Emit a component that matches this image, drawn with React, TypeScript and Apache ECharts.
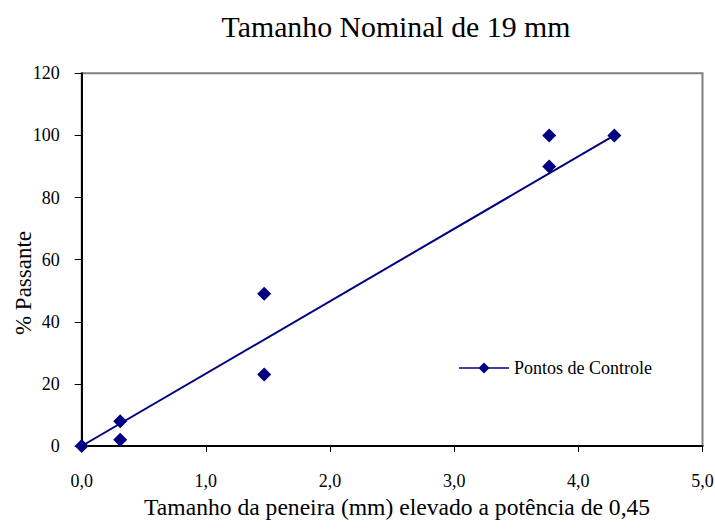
import React, { useEffect, useRef } from "react";
import * as echarts from "echarts";

// Sieve size raised to the 0.45 power, and percent passing at each control point
const controlX = [0, 0.31, 0.31, 1.47, 1.47, 3.765, 3.765, 4.29];
const controlY = [0, 8, 2, 49, 23, 100, 90, 100];

// Maximum density line endpoints
const maxLineX = [0, 4.29];
const maxLineY = [0, 100];

const xTicks = { min: 0, max: 5, interval: 1 };
const yTicks = { min: 0, max: 120, interval: 20 };

const NAVY = "#000080";
const SERIF = "'Liberation Serif', 'DejaVu Serif', serif";

// Legend glyph: a short line with a diamond in the middle
const LEGEND_ICON =
  "path://M0,5.3 L50,5.3 L50,6.7 L0,6.7 Z M25,0.5 L30.5,6 L25,11.5 L19.5,6 Z";

export default function App() {
  const ref = useRef<HTMLDivElement>(null);

  useEffect(() => {
    if (!ref.current) return;
    const chart = echarts.init(ref.current, undefined, { renderer: "svg" });
    const fmt = (v: number) => v.toFixed(1).replace(".", ",");
    chart.setOption({
      animation: false,
      backgroundColor: "#ffffff",
      title: {
        text: "Tamanho Nominal de 19 mm",
        left: 391,
        top: 6,
        textAlign: "center",
        textStyle: {
          fontFamily: SERIF,
          fontSize: 29.8,
          fontWeight: "normal",
          color: "#000",
        },
      },
      grid: {
        left: 81.7,
        right: 12.5,
        top: 73.3,
        bottom: 83,
        outerBoundsMode: "none",
        containLabel: false,
        show: true,
        borderColor: "#808080",
        borderWidth: 2,
        backgroundColor: "#fff",
      },
      legend: {
        left: 454,
        top: 354,
        itemWidth: 50,
        itemHeight: 12,
        itemGap: 4,
        data: [{ name: "Pontos de Controle", icon: LEGEND_ICON }],
        textStyle: { fontFamily: SERIF, fontSize: 18, color: "#000" },
      },
      // Vertical y-axis title
      graphic: [
        {
          type: "text",
          x: 23,
          y: 283,
          rotation: Math.PI / 2,
          style: {
            text: "% Passante",
            font: `23px ${SERIF}`,
            fill: "#000",
            align: "center",
            verticalAlign: "middle",
          },
        },
      ],
      xAxis: {
        type: "value",
        min: xTicks.min,
        max: xTicks.max,
        interval: xTicks.interval,
        name: "Tamanho da peneira (mm) elevado a potência de 0,45",
        nameLocation: "middle",
        nameGap: 47,
        nameTextStyle: { fontFamily: SERIF, fontSize: 23.6, color: "#000", padding: [0, 0, 0, 10] },
        axisLine: { show: true, onZero: false, lineStyle: { color: "#000", width: 2 } },
        axisTick: { show: true, inside: false, length: 6, lineStyle: { color: "#000", width: 1 } },
        axisLabel: {
          formatter: fmt,
          margin: 26,
          fontFamily: SERIF,
          fontSize: 18,
          color: "#000",
        },
        splitLine: { show: false },
      },
      yAxis: {
        type: "value",
        min: yTicks.min,
        max: yTicks.max,
        interval: yTicks.interval,
        axisLine: { show: true, onZero: false, lineStyle: { color: "#000", width: 2 } },
        axisTick: { show: true, inside: false, length: 7, lineStyle: { color: "#000", width: 1 } },
        axisLabel: {
          margin: 22,
          fontFamily: SERIF,
          fontSize: 18,
          color: "#000",
        },
        splitLine: { show: false },
      },
      series: [
        {
          name: "Densidade máxima",
          type: "line",
          data: maxLineX.map((x, i) => [x, maxLineY[i]]),
          showSymbol: false,
          symbol: "none",
          lineStyle: { color: NAVY, width: 2 },
          itemStyle: { color: NAVY },
          z: 2,
        },
        {
          name: "Pontos de Controle",
          type: "scatter",
          data: controlX.map((x, i) => [x, controlY[i]]),
          symbol: "diamond",
          symbolSize: 14,
          itemStyle: { color: NAVY, opacity: 1 },
          z: 3,
        },
      ],
    });
    return () => chart.dispose();
  }, []);

  return (
    <div
      ref={ref}
      style={{ position: "absolute", left: 0, top: 0, width: 715, height: 529 }}
    />
  );
}
